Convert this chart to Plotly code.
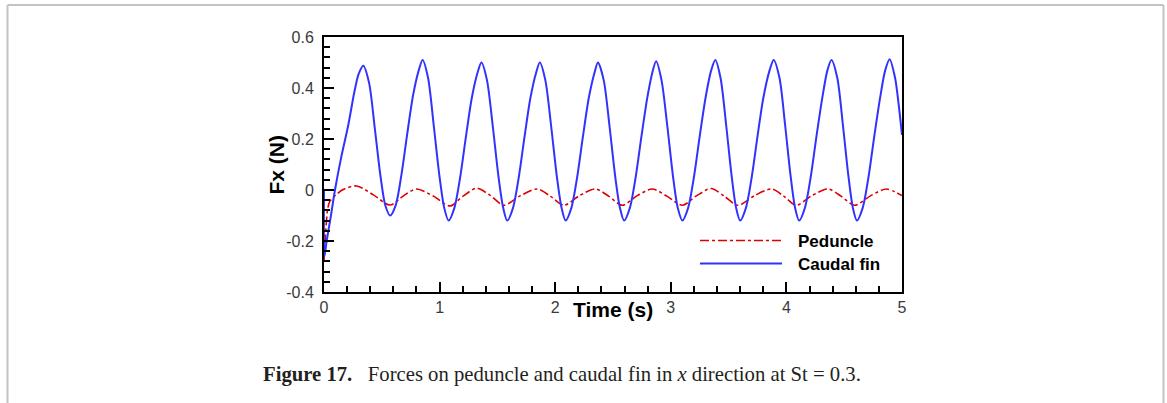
import plotly.graph_objects as go

# ---------------- data ----------------
caudal_t = [0.0, 0.004, 0.023, 0.06, 0.095, 0.147, 0.21, 0.263, 0.30, 0.34,
            0.39, 0.44, 0.49, 0.53, 0.572,
            0.62, 0.67, 0.72, 0.77, 0.82, 0.853, 0.90, 0.95, 1.00, 1.04, 1.078,
            1.128, 1.178, 1.228, 1.278, 1.328, 1.362, 1.41, 1.46, 1.51, 1.55, 1.585,
            1.635, 1.685, 1.735, 1.785, 1.835, 1.867, 1.915, 1.965, 2.015, 2.055, 2.09,
            2.14, 2.19, 2.24, 2.29, 2.34, 2.37, 2.42, 2.47, 2.52, 2.56, 2.596,
            2.646, 2.696, 2.746, 2.796, 2.84, 2.873, 2.92, 2.97, 3.02, 3.06, 3.10,
            3.15, 3.20, 3.25, 3.30, 3.35, 3.385, 3.43, 3.48, 3.525, 3.565, 3.60,
            3.65, 3.70, 3.75, 3.80, 3.855, 3.89, 3.94, 3.99, 4.035, 4.075, 4.11,
            4.16, 4.21, 4.26, 4.31, 4.355, 4.39, 4.44, 4.49, 4.535, 4.575, 4.61,
            4.66, 4.71, 4.76, 4.81, 4.855, 4.893, 4.94, 4.97, 5.0]
caudal_fx = [0.0, -0.26, -0.20, -0.10, 0.00, 0.124, 0.255, 0.385, 0.455, 0.487,
             0.42, 0.24, 0.05, -0.06, -0.10,
             -0.06, 0.06, 0.22, 0.37, 0.47, 0.51, 0.44, 0.25, 0.05, -0.07, -0.12,
             -0.07, 0.05, 0.21, 0.36, 0.46, 0.50, 0.43, 0.25, 0.05, -0.07, -0.12,
             -0.07, 0.05, 0.21, 0.36, 0.46, 0.50, 0.43, 0.25, 0.05, -0.07, -0.12,
             -0.07, 0.05, 0.21, 0.36, 0.46, 0.50, 0.43, 0.25, 0.05, -0.07, -0.12,
             -0.07, 0.05, 0.21, 0.36, 0.46, 0.505, 0.43, 0.25, 0.05, -0.07, -0.12,
             -0.07, 0.05, 0.21, 0.36, 0.47, 0.51, 0.44, 0.25, 0.06, -0.07, -0.12,
             -0.07, 0.05, 0.21, 0.36, 0.47, 0.51, 0.44, 0.25, 0.06, -0.07, -0.12,
             -0.07, 0.05, 0.21, 0.36, 0.47, 0.51, 0.44, 0.25, 0.06, -0.07, -0.12,
             -0.07, 0.05, 0.21, 0.36, 0.47, 0.513, 0.44, 0.34, 0.216]

peduncle_t = [0.0, 0.01, 0.02, 0.03, 0.05, 0.10, 0.17, 0.283, 0.43, 0.572,
              0.69, 0.80, 0.95, 1.09, 1.20, 1.32, 1.44, 1.555, 1.70, 1.845,
              1.96, 2.075, 2.21, 2.35, 2.465, 2.58, 2.71, 2.84, 2.97, 3.10,
              3.225, 3.35, 3.465, 3.58, 3.725, 3.87, 3.98, 4.085, 4.22, 4.36,
              4.475, 4.59, 4.73, 4.865, 5.0]
peduncle_fx = [-0.28, -0.20, -0.13, -0.08, -0.045, -0.02, 0.003, 0.016, -0.02, -0.059,
               -0.022, 0.004, -0.025, -0.063, -0.025, 0.007, -0.022, -0.06, -0.022, 0.004,
               -0.025, -0.06, -0.022, 0.004, -0.025, -0.06, -0.022, 0.004, -0.025, -0.06,
               -0.022, 0.006, -0.025, -0.06, -0.022, 0.004, -0.025, -0.06, -0.022, 0.004,
               -0.025, -0.06, -0.022, 0.004, -0.022]

x_ticks = [0, 1, 2, 3, 4, 5]
x_tick_labels = ["0", "1", "2", "3", "4", "5"]
y_ticks = [-0.4, -0.2, 0, 0.2, 0.4, 0.6]
y_tick_labels = ["-0.4", "-0.2", "0", "0.2", "0.4", "0.6"]

series_names = ["Peduncle", "Caudal fin"]
x_title = "Time (s)"
y_title = "Fx (N)"
caption = ("<b>Figure 17.</b>\u2002 Forces on peduncle and caudal fin in "
           "<i>x</i> direction at St = 0.3.")

# ---------------- styling ----------------
RED = "#dd0000"
BLUE = "#3232ff"
SANS = "Liberation Sans, Arial, sans-serif"
SERIF = "Liberation Serif, Times New Roman, serif"

W, H = 1167, 403
L, R, T, B = 324, 265, 37, 111
PW, PH = W - L - R, H - T - B


def px_to_paper_x(px):
    return (px - L) / PW


def px_to_paper_y(py):
    return (H - B - py) / PH


fig = go.Figure()
fig.add_trace(go.Scatter(x=peduncle_t, y=peduncle_fx, mode="lines", name=series_names[0],
                         line=dict(color=RED, width=1.6, dash="9px,3px,3px,3px", shape="spline",
                                   smoothing=0.8),
                         showlegend=False))
fig.add_trace(go.Scatter(x=caudal_t, y=caudal_fx, mode="lines", name=series_names[1],
                         line=dict(color=BLUE, width=2, shape="spline", smoothing=0.8),
                         showlegend=False))

axis_common = dict(
    showgrid=False, zeroline=False, showline=True, linecolor="black", linewidth=2,
    mirror=True, ticks="inside", tickcolor="black", tickwidth=2, ticklen=10,
    tickfont=dict(family=SANS, size=16, color="#3a3a3a"),
)
fig.update_xaxes(range=[0, 5], tickvals=x_ticks, ticktext=x_tick_labels,
                 minor=dict(ticks="inside", dtick=0.2, ticklen=6, tickwidth=1.5, tickcolor="black"),
                 **axis_common)
fig.update_yaxes(range=[-0.4, 0.6], tickvals=y_ticks, ticktext=y_tick_labels,
                 minor=dict(ticks="inside", dtick=0.04, ticklen=6, tickwidth=1.5, tickcolor="black"),
                 ticklabelstandoff=5, **axis_common)

shapes = []
# legend samples
shapes.append(dict(type="line", xref="paper", yref="paper",
                   x0=px_to_paper_x(700), x1=px_to_paper_x(782),
                   y0=px_to_paper_y(240.5), y1=px_to_paper_y(240.5),
                   line=dict(color=RED, width=1.6, dash="9px,3px,3px,3px")))
shapes.append(dict(type="line", xref="paper", yref="paper",
                   x0=px_to_paper_x(700), x1=px_to_paper_x(782),
                   y0=px_to_paper_y(263.5), y1=px_to_paper_y(263.5),
                   line=dict(color=BLUE, width=2)))
# page frame (gray border: left, top, right)
fx0, fx1 = px_to_paper_x(7.5), px_to_paper_x(1163.5)
fy0, fy1 = px_to_paper_y(404), px_to_paper_y(5)
frame = dict(color="#c4c4c4", width=2)
shapes.append(dict(type="line", xref="paper", yref="paper", x0=fx0, x1=fx0, y0=fy0, y1=fy1, line=frame))
shapes.append(dict(type="line", xref="paper", yref="paper", x0=fx0, x1=fx1, y0=fy1, y1=fy1, line=frame))
shapes.append(dict(type="line", xref="paper", yref="paper", x0=fx1, x1=fx1, y0=fy0, y1=fy1, line=frame))

annotations = [
    dict(text=f"<b>{series_names[0]}</b>", x=px_to_paper_x(796), y=px_to_paper_y(241),
         xref="paper", yref="paper", xanchor="left", yanchor="middle", showarrow=False,
         font=dict(family=SANS, size=17, color="black")),
    dict(text=f"<b>{series_names[1]}</b>", x=px_to_paper_x(796), y=px_to_paper_y(264),
         xref="paper", yref="paper", xanchor="left", yanchor="middle", showarrow=False,
         font=dict(family=SANS, size=17, color="black")),
    dict(text=f"<b>{x_title}</b>", x=px_to_paper_x(612.5), y=px_to_paper_y(309),
         xref="paper", yref="paper", xanchor="center", yanchor="middle", showarrow=False,
         font=dict(family=SANS, size=21, color="black")),
    dict(text=f"<b>{y_title}</b>", x=px_to_paper_x(275.5), y=px_to_paper_y(165),
         xref="paper", yref="paper", xanchor="center", yanchor="middle", showarrow=False,
         textangle=-90, font=dict(family=SANS, size=21, color="black")),
    dict(text=caption, x=px_to_paper_x(562), y=px_to_paper_y(374),
         xref="paper", yref="paper", xanchor="center", yanchor="middle", showarrow=False,
         font=dict(family=SERIF, size=20.7, color="#231f20")),
]

fig.update_layout(
    width=W, height=H, margin=dict(l=L, r=R, t=T, b=B, pad=0),
    paper_bgcolor="white", plot_bgcolor="white",
    shapes=shapes, annotations=annotations, showlegend=False,
)

fig.write_html("out.html", config={"displayModeBar": False},
               post_script="document.body.style.margin='0';document.body.style.overflow='hidden';")
